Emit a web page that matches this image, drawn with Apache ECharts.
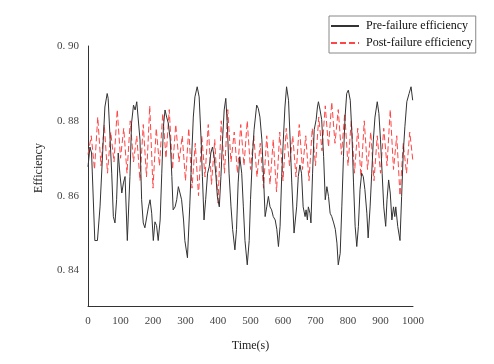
<!DOCTYPE html>
<html>
<head>
<meta charset="utf-8">
<script src="https://cdn.jsdelivr.net/npm/echarts@6/dist/echarts.min.js"></script>
<style>
html,body{margin:0;padding:0;background:#fff;}
#c{width:494px;height:364px;}
</style>
</head>
<body>
<div id="c"></div>
<script>
var xTicks = [0,100,200,300,400,500,600,700,800,900,1000];
var yTickLabels = [0.84,0.86,0.88,0.90];

var preTime = [0,6,11,21,29,37,47,52,59,62,73,78,83,88,93,98,104,109,114,121,129,134,140,145,150,155,160,165,170,175,181,186,191,196,201,206,211,216,222,227,232,237,242,247,253,258,262,268,273,278,283,288,294,298,306,313,319,324,329,336,342,348,352,357,362,368,373,378,383,388,393,398,404,409,414,419,424,429,434,440,445,452,457,462,467,473,478,483,490,496,500,506,511,519,524,529,535,540,545,550,555,560,565,570,576,581,586,591,596,601,606,611,617,622,627,634,642,647,652,657,662,668,671,675,678,683,686,691,696,702,706,709,714,719,725,730,735,740,745,750,756,761,766,770,776,781,786,791,796,801,807,812,817,822,827,832,837,842,847,852,858,862,868,873,878,883,890,895,900,905,910,916,920,925,930,935,940,944,947,953,960,965,970,975,981,988,994,999];
var preValue = [0.8677,0.873,0.8714,0.848,0.848,0.857,0.8749,0.8837,0.8873,0.886,0.866,0.8544,0.8527,0.8589,0.8714,0.866,0.8607,0.8634,0.8651,0.848,0.8651,0.8794,0.8842,0.8829,0.8851,0.8847,0.8749,0.8589,0.8527,0.8514,0.8518,0.857,0.8589,0.8553,0.848,0.853,0.852,0.848,0.8535,0.866,0.8784,0.8829,0.881,0.8794,0.8749,0.8651,0.8562,0.857,0.8589,0.8624,0.8607,0.8589,0.8535,0.848,0.8434,0.857,0.8704,0.881,0.8864,0.8891,0.8864,0.8749,0.8651,0.8535,0.8589,0.866,0.8677,0.8714,0.873,0.8705,0.866,0.8598,0.857,0.8651,0.8749,0.8829,0.886,0.8784,0.866,0.857,0.851,0.8455,0.851,0.8634,0.8704,0.866,0.857,0.848,0.8415,0.848,0.8589,0.8705,0.8776,0.8842,0.8833,0.881,0.8749,0.8651,0.8544,0.857,0.8598,0.857,0.8562,0.8544,0.8535,0.851,0.8464,0.8518,0.8651,0.8749,0.8837,0.8891,0.8855,0.8749,0.8634,0.850,0.857,0.8651,0.8682,0.866,0.857,0.8544,0.8562,0.8535,0.857,0.8553,0.8527,0.866,0.8776,0.8803,0.8837,0.8851,0.8829,0.8803,0.8704,0.8589,0.8624,0.8598,0.8553,0.8544,0.8527,0.851,0.8473,0.8415,0.8446,0.857,0.8704,0.881,0.8873,0.8882,0.8855,0.8767,0.8634,0.8518,0.8464,0.8518,0.8616,0.866,0.8651,0.8616,0.8553,0.8487,0.857,0.866,0.8749,0.881,0.8851,0.882,0.8749,0.866,0.857,0.8518,0.8589,0.8642,0.8607,0.8535,0.857,0.8544,0.857,0.8518,0.848,0.8598,0.8714,0.8784,0.8851,0.8873,0.8891,0.8855];

var postTime = [0,10,20,30,40,50,60,70,80,90,100,110,120,130,140,150,160,170,180,190,200,210,220,230,240,250,260,270,280,290,300,310,320,330,340,350,360,370,380,390,400,410,420,430,440,450,460,470,480,490,500,510,520,530,540,550,560,570,580,590,600,610,620,630,640,650,660,670,680,690,700,710,720,730,740,750,760,770,780,790,800,810,820,830,840,850,860,870,880,890,900,910,920,930,940,950,960,970,980,990,1000];
var postValue = [0.871,0.876,0.867,0.881,0.868,0.879,0.866,0.877,0.869,0.883,0.870,0.878,0.866,0.880,0.869,0.876,0.864,0.879,0.865,0.884,0.862,0.878,0.868,0.882,0.870,0.883,0.867,0.879,0.869,0.876,0.864,0.878,0.862,0.874,0.860,0.876,0.865,0.879,0.863,0.875,0.858,0.880,0.866,0.883,0.869,0.877,0.866,0.879,0.868,0.880,0.867,0.876,0.865,0.874,0.862,0.876,0.863,0.875,0.861,0.877,0.864,0.878,0.868,0.876,0.865,0.879,0.867,0.876,0.864,0.878,0.868,0.881,0.872,0.884,0.873,0.885,0.874,0.883,0.871,0.882,0.868,0.880,0.866,0.878,0.865,0.880,0.867,0.877,0.864,0.876,0.866,0.878,0.868,0.883,0.867,0.876,0.860,0.874,0.866,0.877,0.869];

function pairs(t, v){ return t.map(function(x,i){ return [x, v[i]]; }); }

var chart = echarts.init(document.getElementById('c'), null, {renderer:'canvas'});
var serif = '"Liberation Serif","DejaVu Serif",serif';
chart.setOption({
  backgroundColor:'#fff',
  animation:false,
  grid:{left:88, right:81, top:46, bottom:58},
  legend:{
    left:329, top:16, orient:'vertical',
    padding:[4,3,4,1], itemGap:5, itemWidth:28, itemHeight:12,
    borderColor:'#888', borderWidth:1,
    itemStyle:{opacity:0},
    textStyle:{fontFamily:serif, fontSize:12, color:'#111', padding:[0,0,0,2]},
    data:['Pre-failure efficiency','Post-failure efficiency']
  },
  xAxis:{
    type:'value', min:0, max:1000, interval:100,
    name:'Time(s)', nameLocation:'middle', nameGap:34,
    nameTextStyle:{fontFamily:serif, fontSize:12, color:'#222'},
    axisLine:{show:true, onZero:false, lineStyle:{color:'#333', width:1}},
    axisTick:{show:false},
    splitLine:{show:false},
    axisLabel:{fontFamily:serif, fontSize:11, color:'#444', margin:10,
      formatter:function(v){ return xTicks.indexOf(v) >= 0 ? String(v) : ''; }}
  },
  yAxis:{
    type:'value', min:0.8305, max:0.90,
    axisLine:{show:true, onZero:false, lineStyle:{color:'#333', width:1}},
    axisTick:{show:false},
    splitLine:{show:false},
    axisLabel:{fontFamily:serif, fontSize:11, color:'#444', margin:9,
      formatter:function(v){
        for (var i=0;i<yTickLabels.length;i++){
          if (Math.abs(v - yTickLabels[i]) < 1e-6) return yTickLabels[i].toFixed(2).replace('.', '. ');
        }
        return '';
      }}
  },
  graphic:[{
    type:'text', x:39, y:168, rotation:Math.PI/2,
    style:{text:'Efficiency', fontFamily:serif, fontSize:12, fill:'#222', textAlign:'center', textVerticalAlign:'middle'}
  }],
  series:[
    {name:'Pre-failure efficiency', type:'line', showSymbol:false, symbol:'none',
     data:pairs(preTime, preValue),
     lineStyle:{color:'#333', width:1}, itemStyle:{color:'#333'}, z:3},
    {name:'Post-failure efficiency', type:'line', showSymbol:false, symbol:'none',
     data:pairs(postTime, postValue),
     lineStyle:{color:'#ff4545', width:1, type:[6,3]}, itemStyle:{color:'#ff4545'}, z:2}
  ]
});
</script>
</body>
</html>
